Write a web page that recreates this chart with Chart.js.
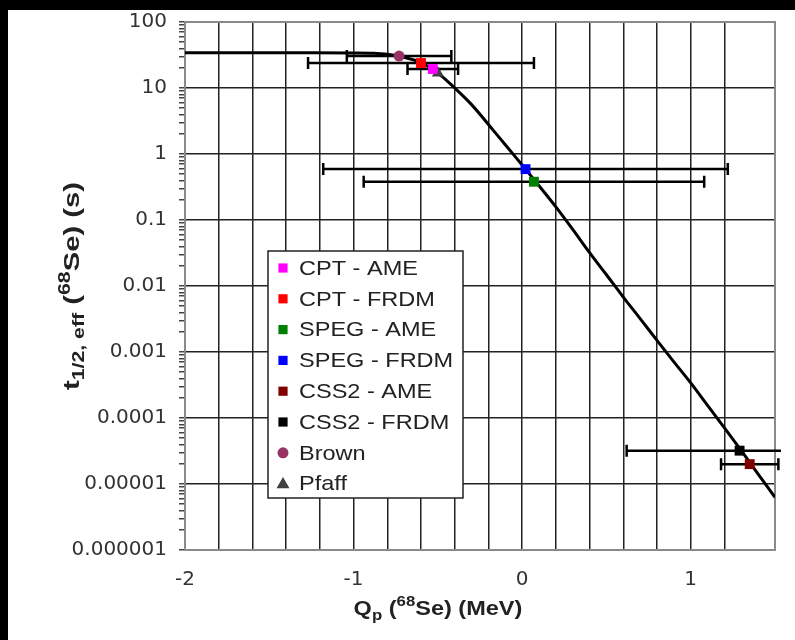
<!DOCTYPE html>
<html>
<head>
<meta charset="utf-8">
<title>68Se effective half-life vs Qp</title>
<script src="https://cdn.jsdelivr.net/npm/chart.js@4.4.0/dist/chart.umd.min.js"></script>
<style>
  html, body { margin: 0; padding: 0; background: #fff; overflow: hidden; }
  #wrap {
    position: absolute; left: 0; top: 0; width: 787px; height: 630px;
    background: #fff; border-left: 8px solid #000; border-top: 10px solid #000;
  }
</style>
</head>
<body>
<div id="wrap"><canvas id="chart"></canvas></div>
<script>
// measurements / predictions of Qp and effective half-life
const seriesNames  = ['CPT - AME', 'CPT - FRDM', 'SPEG - AME', 'SPEG - FRDM', 'CSS2 - AME', 'CSS2 - FRDM', 'Brown', 'Pfaff'];
const seriesColors = ['#ff00ff', '#ff0000', '#008000', '#0000ff', '#800000', '#000000', '#993366', '#404040'];
const seriesShapes = ['rect', 'rect', 'rect', 'rect', 'rect', 'rect', 'circle', 'triangle'];
const seriesQ      = [-0.53, -0.60, 0.07, 0.02, 1.35, 1.29, -0.73, -0.50];
const seriesT      = [19.4, 23.9, 0.38, 0.59, 2.0e-5, 3.2e-5, 30.5, 16.9];
const seriesQErr   = [0.15, 0.67, 1.01, 1.20, 0.17, 0.67, 0.31, 0];

// calculated t1/2,eff as a function of Qp
const curveQ = [-2.0, -1.5, -1.0, -0.9, -0.8, -0.7, -0.6, -0.5, -0.4, -0.3, -0.2, -0.1, 0.0,
                0.1, 0.2, 0.3, 0.4, 0.5, 0.6, 0.7, 0.8, 0.9, 1.0, 1.1, 1.2, 1.3, 1.4, 1.5];
const curveT = [34.3, 34.3, 34.0, 33.7, 32.4, 29.0, 24.2, 16.8, 10.0, 5.6, 2.8, 1.38, 0.68,
                0.33, 0.158, 0.072, 0.032, 0.0148, 0.0068, 0.0032, 0.0015, 0.00071, 0.00034,
                0.000155, 7.1e-5, 3.2e-5, 1.41e-5, 6.3e-6];

// axis ticks
const xLabelled = [-2, -1, 0, 1];
const yDecades  = [1e-6, 1e-5, 1e-4, 1e-3, 1e-2, 0.1, 1, 10, 100];

const isDecade = v => yDecades.some(d => Math.abs(v / d - 1) < 1e-6);

function decadeLabel(v) {
  return v >= 1 ? String(v) : v.toFixed(Math.round(-Math.log10(v)));
}

// draw text stretched horizontally by sx
function stretchText(ctx, text, x, y, sx) {
  ctx.save();
  ctx.translate(x, y);
  ctx.scale(sx, 1);
  ctx.fillText(text, 0, 0);
  ctx.restore();
}

// runs of text with sub/superscripts, returns total width
function richText(ctx, parts, x, y, sx, measureOnly) {
  let cx = x;
  parts.forEach(p => {
    ctx.font = 'bold ' + p.size + 'px "Liberation Sans", Arial, sans-serif';
    const w = ctx.measureText(p.text).width * sx;
    if (!measureOnly) stretchText(ctx, p.text, cx, y + (p.dy || 0), sx);
    cx += w;
  });
  return cx - x;
}

const xTitle = [
  { text: 'Q', size: 21 },
  { text: 'p', size: 15, dy: 5 },
  { text: ' (', size: 21 },
  { text: '68', size: 15, dy: -9 },
  { text: 'Se) (MeV)', size: 21 }
];
const yTitle = [
  { text: 't', size: 22 },
  { text: '1/2, eff', size: 16, dy: 5 },
  { text: ' (', size: 22 },
  { text: '68', size: 16, dy: -9 },
  { text: 'Se) (s)', size: 22 }
];

const plotFrame = {
  id: 'plotFrame',
  beforeDatasetsDraw(chart) {
    const { ctx, chartArea: a } = chart;
    ctx.save();
    ctx.strokeStyle = '#8a8a8a';
    ctx.lineWidth = 2;
    ctx.strokeRect(a.left, a.top, a.right - a.left, a.bottom - a.top);
    ctx.restore();
  }
};

const errorBars = {
  id: 'errorBars',
  beforeDatasetsDraw(chart) {
    const { ctx, chartArea: a, scales: { x, y } } = chart;
    ctx.save();
    ctx.beginPath();
    ctx.rect(a.left, a.top, a.right - a.left + 6, a.bottom - a.top);
    ctx.clip();
    ctx.strokeStyle = '#000';
    ctx.lineWidth = 2.5;
    seriesQ.forEach((q, i) => {
      const err = seriesQErr[i];
      if (!err) return;
      const py = y.getPixelForValue(seriesT[i]);
      const x0 = x.getPixelForValue(q - err);
      const x1 = x.getPixelForValue(q + err);
      ctx.beginPath();
      ctx.moveTo(x0, py); ctx.lineTo(x1, py);
      ctx.moveTo(x0, py - 6); ctx.lineTo(x0, py + 6);
      ctx.moveTo(x1, py - 6); ctx.lineTo(x1, py + 6);
      ctx.stroke();
    });
    ctx.restore();
  }
};

const boxLegend = {
  id: 'boxLegend',
  afterDatasetsDraw(chart) {
    const { ctx, chartArea: a } = chart;
    const left = a.left + 83, top = a.top + 229, w = 195, h = 247;
    const markerSize = { rect: 6.5, circle: 5.5, triangle: 7.5 };
    ctx.save();
    ctx.fillStyle = '#fff';
    ctx.fillRect(left, top, w, h);
    ctx.strokeStyle = '#222';
    ctx.lineWidth = 1.5;
    ctx.strokeRect(left, top, w, h);
    ctx.textBaseline = 'middle';
    seriesNames.forEach((name, i) => {
      const cy = top + 17 + i * 30.8;
      ctx.fillStyle = seriesColors[i];
      ctx.strokeStyle = seriesColors[i];
      Chart.helpers.drawPoint(ctx, {
        pointStyle: seriesShapes[i],
        radius: markerSize[seriesShapes[i]],
        rotation: 0,
        borderWidth: 0
      }, left + 15, cy + (seriesShapes[i] === 'triangle' ? 1 : 0));
      ctx.fillStyle = '#222';
      ctx.font = '21px "Liberation Sans", Arial, sans-serif';
      stretchText(ctx, name, left + 31, cy + 1, 1.12);
    });
    ctx.restore();
  }
};

const axisTitles = {
  id: 'axisTitles',
  afterDraw(chart) {
    const { ctx, chartArea: a } = chart;
    ctx.save();
    ctx.fillStyle = '#222';
    ctx.textBaseline = 'alphabetic';
    // x title
    const wx = richText(ctx, xTitle, 0, 0, 1.12, true);
    richText(ctx, xTitle, 430 - wx / 2, 605, 1.12);
    // y title, rotated
    ctx.translate(71, (a.top + a.bottom) / 2);
    ctx.rotate(-Math.PI / 2);
    const wy = richText(ctx, yTitle, 0, 0, 1.33, true);
    richText(ctx, yTitle, -wy / 2, 0, 1.33);
    ctx.restore();
  }
};

const pointSets = seriesNames.map((name, i) => ({
  label: name,
  data: [{ x: seriesQ[i], y: seriesT[i] }],
  pointStyle: seriesShapes[i],
  pointRadius: seriesShapes[i] === 'circle' ? 5.5 : 7,
  pointBackgroundColor: seriesColors[i],
  pointBorderWidth: 0,
  order: 0
}));

new Chart(document.getElementById('chart'), {
  type: 'scatter',
  data: {
    datasets: [{
      label: 'calc',
      data: curveQ.map((q, i) => ({ x: q, y: curveT[i] })),
      showLine: true,
      borderColor: '#000',
      borderWidth: 3,
      pointRadius: 0,
      tension: 0.4,
      order: 5
    }].concat(pointSets)
  },
  options: {
    responsive: true,
    maintainAspectRatio: false,
    animation: false,
    layout: { padding: { top: 12, right: 20, left: 0, bottom: 0 } },
    plugins: { legend: { display: false }, tooltip: { enabled: false } },
    scales: {
      x: {
        type: 'linear',
        min: -2,
        max: 1.5,
        afterFit: s => { s.height = 90; },
        border: { display: false },
        grid: { color: '#222', lineWidth: 1.5, drawTicks: false },
        ticks: {
          stepSize: 0.2,
          autoSkip: false,
          maxRotation: 0,
          padding: 18,
          color: '#333',
          font: { family: '"DejaVu Sans", sans-serif', size: 20 },
          callback: v => {
            const hit = xLabelled.find(t => Math.abs(t - v) < 1e-6);
            return hit === undefined ? '' : String(hit);
          }
        }
      },
      y: {
        type: 'logarithmic',
        min: 1e-6,
        max: 100,
        afterFit: s => { s.width = 177; s.paddingTop = 0; },
        afterBuildTicks: s => {
          const ticks = [];
          yDecades.forEach(d => {
            for (let m = 1; m <= (d === 100 ? 1 : 9); m++) ticks.push({ value: d * m });
          });
          s.ticks = ticks;
        },
        border: { display: false },
        grid: {
          color: c => (c.tick && isDecade(c.tick.value)) ? '#222' : 'rgba(0,0,0,0)',
          lineWidth: 1.5,
          tickColor: '#444',
          tickLength: 6,
          tickWidth: 1.5
        },
        ticks: {
          autoSkip: false,
          padding: 12,
          color: '#333',
          font: { family: '"DejaVu Sans", sans-serif', size: 20 },
          callback: v => isDecade(v) ? decadeLabel(v) : ''
        }
      }
    }
  },
  plugins: [plotFrame, errorBars, boxLegend, axisTitles]
});
</script>
</body>
</html>
